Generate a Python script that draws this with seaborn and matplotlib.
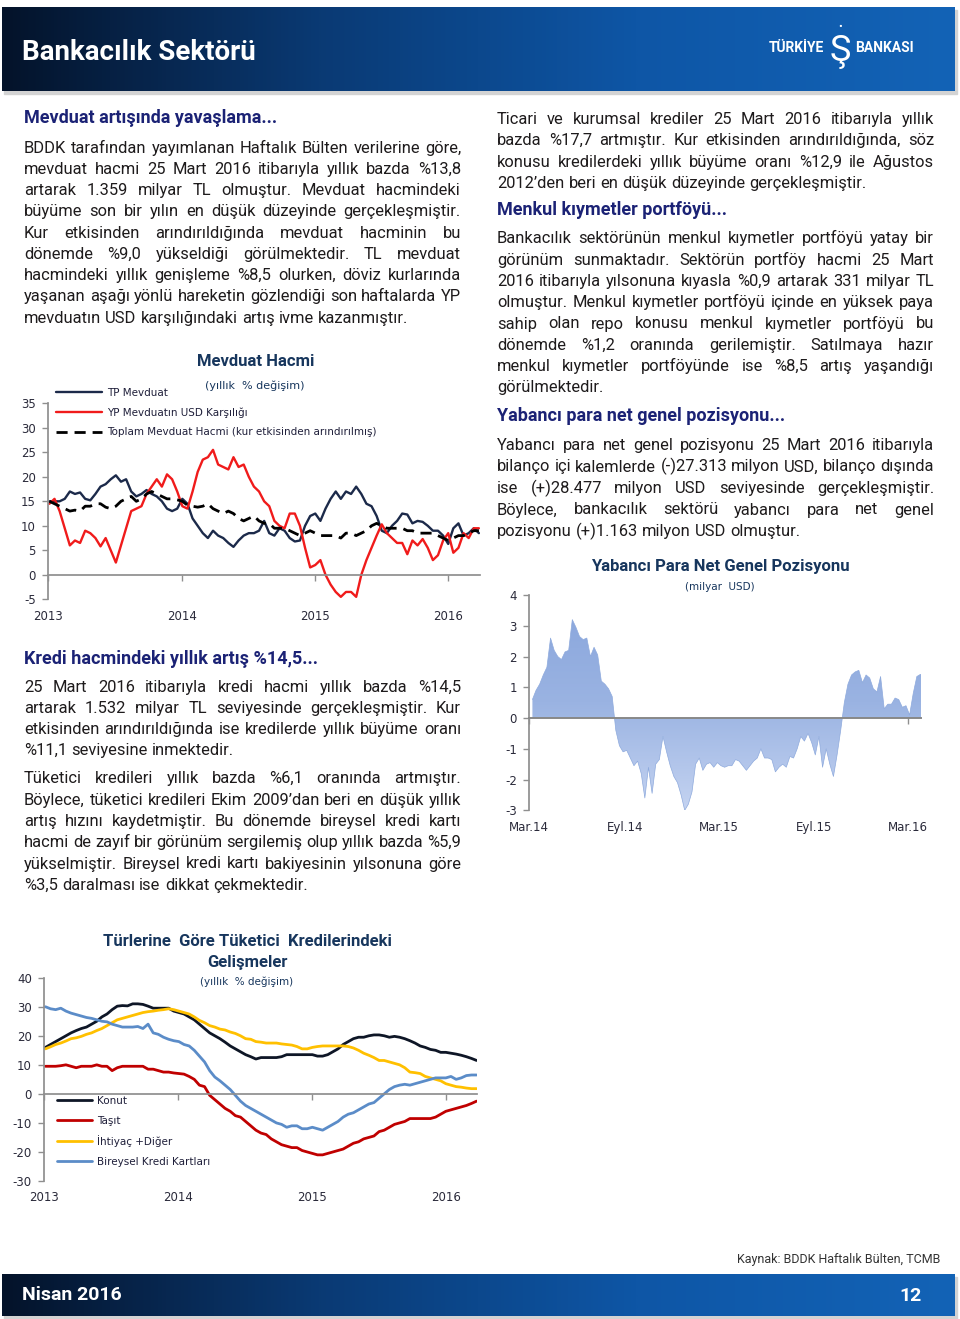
import numpy as np
import pandas as pd
import matplotlib
matplotlib.use('Agg')
import matplotlib.pyplot as plt
import matplotlib.dates as mdates
from matplotlib.colors import LinearSegmentedColormap
from matplotlib.patches import Rectangle
import seaborn as sns

# --- Mevduat Hacmi (yillik % degisim), iki haftalik ---
mevduat_tarih = pd.date_range('2013-01-04', periods=85, freq='14D')
tp_mevduat = [15, 15, 15, 15.5, 17, 16.5, 16.8, 15.5, 15.2, 16.5,
              18, 18.5, 19.5, 20.3, 19, 19.5, 17, 16, 16.5, 17.3,
              16.5, 16, 15, 13.5, 13, 13.5, 15.5, 14.5, 11.5, 10,
              8.5, 7.5, 9, 8, 7.5, 6.5, 5.7, 7, 8, 8.5,
              8.5, 9, 11, 8.5, 8, 9.5, 9, 7.5, 6.8, 7,
              10, 12, 12.5, 11, 13.5, 15.5, 17, 15.5, 17, 16.5,
              18, 16.5, 14.5, 14, 12, 9, 8.5, 10, 11, 12.5,
              12.3, 10.5, 11, 10.8, 10, 9, 9, 8, 6.3, 9.5,
              10.5, 8, 8.5, 9.5, 8.5]
yp_mevduat = [14.5, 15.5, 13, 9.5, 6, 7, 6.5, 9, 8.5, 7.5,
              5.8, 7.5, 5, 2.5, 6, 9.5, 13, 13.5, 14, 16.5,
              18, 19.5, 18, 20.5, 19.5, 17, 14, 13.5, 17, 21,
              23.5, 24, 25.5, 22.5, 22, 21.5, 24, 22, 22.5, 20,
              18, 17, 15, 14, 11, 10, 9.5, 12.5, 12.5, 10,
              5.5, 1.5, 2, 3, 0, -2, -3.5, -4.5, -3.5, -3.5,
              -4.5, 0, 3, 5.5, 8, 10.3, 8.5, 7.5, 6.5, 6.5,
              4.2, 7, 6, 7.3, 5.5, 3, 4, 7, 8.5, 4.5,
              5.5, 8.5, 7.5, 9.5, 9.5]
toplam_mevduat = [15, 14.5, 14, 13.5, 13, 13.2, 13, 14, 14, 14.5,
                  14.5, 13.8, 13.5, 14, 15, 15.5, 16, 15, 15.5, 16.5,
                  17, 16.5, 16, 15.5, 15.5, 15.3, 15, 14.2, 14, 13.8,
                  14, 14.5, 13.5, 13, 12.5, 13, 12.5, 11.5, 11, 11.5,
                  12, 11, 10.5, 10.5, 9.5, 9.5, 9.5, 9, 8.5, 8,
                  8.5, 9, 8.5, 8, 8, 8, 8, 7.5, 8.5, 8.5,
                  8, 8.5, 9, 10, 10.5, 10, 9.5, 9.5, 9.5, 9.5,
                  9, 9, 8.5, 8.5, 8.5, 8.5, 8, 7.5, 7, 7.5,
                  8, 8, 8.5, 9, 9]
mevduat_etiket = ['TP Mevduat', 'YP Mevduatın USD Karşılığı',
                  'Toplam Mevduat Hacmi (kur etkisinden arındırılmış)']

# --- Yabanci Para Net Genel Pozisyonu (milyar USD), haftalik ---
poz_tarih = pd.date_range('2014-03-07', periods=109, freq='7D')
yp_pozisyon = [0.6, 0.9, 1.1, 1.4, 1.65, 2.6, 2.2, 2.0, 1.9, 2.15,
               2.2, 3.2, 2.95, 2.65, 2.55, 2.6, 2.0, 2.3, 2.05, 1.2,
               1.1, 0.95, 0.7, -0.4, -0.9, -1.1, -1.05, -1.3, -1.55, -1.4,
               -1.8, -2.6, -1.6, -2.45, -1.5, -1.35, -0.6, -1.1, -1.55, -1.9,
               -2.1, -2.5, -3.0, -2.8, -2.4, -1.5, -1.3, -1.7, -1.5, -1.45,
               -1.6, -1.45, -1.55, -1.6, -1.55, -1.55, -1.35, -1.4, -1.55, -1.7,
               -1.55, -1.4, -1.3, -1.0, -1.3, -1.3, -1.35, -1.75, -1.6, -1.5,
               -1.6, -1.25, -1.3, -1.0, -0.6, -0.75, -0.5, -0.8, -1.2, -0.6,
               -1.6, -1.0, -1.5, -1.9, -1.2, -0.4, 0.5, 1.1, 1.4, 1.5,
               1.55, 1.15, 1.4, 1.3, 0.95, 0.85, 1.35, 0.3, 0.45, 0.45,
               0.65, 0.6, 0.35, 0.4, 0.1, 0.8, 1.35, 1.42, 1.2]
poz_tick_tarih = ['2014-03-01', '2014-09-01', '2015-03-01', '2015-09-01', '2016-03-01']
poz_tick_etiket = ['Mar.14', 'Eyl.14', 'Mar.15', 'Eyl.15', 'Mar.16']

# --- Turlerine gore tuketici kredileri (yillik % degisim), iki haftalik ---
kredi_tarih = pd.date_range('2013-01-04', periods=85, freq='14D')
konut = [16, 17, 18, 19, 20, 21, 21.8, 22.5, 23, 24,
         25, 26.5, 27.5, 29, 30.2, 30.4, 30.3, 31, 31, 30.8,
         30.2, 29.5, 29.5, 29.5, 29.5, 28.5, 28, 27.5, 26.5, 25.5,
         24, 22.5, 21, 20, 19, 17.8, 16.5, 15.5, 14.5, 13.5,
         12.8, 12, 12.5, 12.5, 12.5, 12.5, 12.8, 13.5, 13.5, 13.5,
         13.5, 13.5, 13.5, 13, 13, 13.5, 14.5, 15.5, 17, 18,
         19, 19.5, 19.5, 20, 20.3, 20.3, 20, 19.5, 19.8, 19.5,
         19, 18.3, 17.5, 16.5, 16, 15.3, 15, 14.3, 14.3, 14,
         13.7, 13.3, 12.8, 12.2, 11.5]
tasit = [9.5, 9.5, 9.5, 9.7, 10, 9.5, 9, 9.5, 9.5, 9.5,
         10, 9.5, 9.5, 8, 9, 9.5, 9.5, 9.5, 9.5, 9.5,
         8.5, 8.5, 8, 7.5, 7.5, 7.2, 7, 6.8, 6, 5,
         3, 2.5, -0.5, -2, -3.5, -5, -6, -7.5, -8, -9.5,
         -11, -12.5, -13.5, -14, -15.5, -16.5, -17.5, -18, -18.5, -18.5,
         -19.5, -20, -20.5, -21, -21, -20.5, -20, -19.5, -19, -18,
         -17, -16.5, -15.5, -15, -14.5, -13, -12.5, -11.5, -10.5, -10,
         -9.5, -8.5, -8.5, -8.5, -8.5, -8.5, -8, -7, -6, -5.5,
         -5, -4.5, -4, -3.3, -2.5]
ihtiyac = [15.5, 16.2, 17, 17.5, 18.2, 19, 19.3, 19.8, 20.5, 21,
           21.8, 22.5, 23.5, 24.5, 25.5, 26, 26.5, 27, 27.5, 28,
           28.3, 28.5, 28.8, 29, 29.3, 29, 28.5, 28, 27.5, 26.5,
           25.3, 24.5, 23.5, 23, 22.3, 22, 21.3, 20.8, 20, 19,
           18.8, 18, 17.8, 17.5, 17.5, 17.5, 17.2, 17, 16.8, 16.3,
           15.5, 15.5, 16, 16.3, 16.5, 16.5, 16.5, 16.5, 16.5, 16.3,
           15.8, 15, 14, 13.3, 12.5, 11.5, 11.5, 11, 10.5, 10,
           9, 7.5, 7.3, 7, 6, 5.5, 5, 4.5, 3.5, 3,
           2.5, 2.3, 2, 1.8, 1.8]
kredi_karti = [30, 29.3, 29, 29.5, 28.5, 27.8, 27.3, 26.8, 26.3, 26,
               25.5, 25, 24.8, 24, 23.5, 23, 23, 23, 23.2, 22.5,
               24, 21, 20.5, 19.5, 18.8, 18.3, 18, 17, 16.5, 15,
               13, 11, 8, 5.8, 4.5, 3, 1.5, -0.5, -2.5, -4,
               -5, -6, -7, -8, -9, -10, -10.5, -11.5, -11, -11,
               -12, -12, -11.5, -12, -12.5, -11.5, -10.5, -9.5, -8, -7,
               -6.5, -5.5, -4.5, -3.5, -3, -1.5, 0, 1.5, 2.5, 3,
               3.3, 3, 3.5, 4, 4.5, 5, 5.5, 5.5, 5.5, 6,
               5, 5.5, 6.3, 6.5, 6.5]
kredi_etiket = ['Konut', 'Taşıt', 'İhtiyaç +Diğer', 'Bireysel Kredi Kartları']

yil_tick = ['2013-01-01', '2014-01-01', '2015-01-01', '2016-01-01']
yil_etiket = ['2013', '2014', '2015', '2016']

# --- metin ---
p_mevduat = [
    "BDDK tarafından yayımlanan Haftalık Bülten verilerine göre,",
    "mevduat hacmi 25 Mart 2016 itibarıyla yıllık bazda %13,8",
    "artarak 1.359 milyar TL olmuştur. Mevduat hacmindeki",
    "büyüme son bir yılın en düşük düzeyinde gerçekleşmiştir.",
    "Kur etkisinden arındırıldığında mevduat hacminin bu",
    "dönemde %9,0 yükseldiği görülmektedir. TL mevduat",
    "hacmindeki yıllık genişleme %8,5 olurken, döviz kurlarında",
    "yaşanan aşağı yönlü hareketin gözlendiği son haftalarda YP",
    "mevduatın USD karşılığındaki artış ivme kazanmıştır.",
]
p_kredi1 = [
    "25 Mart 2016 itibarıyla kredi hacmi yıllık bazda %14,5",
    "artarak 1.532 milyar TL seviyesinde gerçekleşmiştir. Kur",
    "etkisinden arındırıldığında ise kredilerde yıllık büyüme oranı",
    "%11,1 seviyesine inmektedir.",
]
p_kredi2 = [
    "Tüketici kredileri yıllık bazda %6,1 oranında artmıştır.",
    "Böylece, tüketici kredileri Ekim 2009’dan beri en düşük yıllık",
    "artış hızını kaydetmiştir. Bu dönemde bireysel kredi kartı",
    "hacmi de zayıf bir görünüm sergilemiş olup yıllık bazda %5,9",
    "yükselmiştir. Bireysel kredi kartı bakiyesinin yılsonuna göre",
    "%3,5 daralması ise dikkat çekmektedir.",
]
p_ticari = [
    "Ticari ve kurumsal krediler 25 Mart 2016 itibarıyla yıllık",
    "bazda %17,7 artmıştır. Kur etkisinden arındırıldığında, söz",
    "konusu kredilerdeki yıllık büyüme oranı %12,9 ile Ağustos",
    "2012’den beri en düşük düzeyinde gerçekleşmiştir.",
]
p_menkul = [
    "Bankacılık sektörünün menkul kıymetler portföyü yatay bir",
    "görünüm sunmaktadır. Sektörün portföy hacmi 25 Mart",
    "2016 itibarıyla yılsonuna kıyasla %0,9 artarak 331 milyar TL",
    "olmuştur. Menkul kıymetler portföyü içinde en yüksek paya",
    "sahip olan repo konusu menkul kıymetler portföyü bu",
    "dönemde %1,2 oranında gerilemiştir. Satılmaya hazır",
    "menkul kıymetler portföyünde ise %8,5 artış yaşandığı",
    "görülmektedir.",
]
p_yp = [
    "Yabancı para net genel pozisyonu 25 Mart 2016 itibarıyla",
    "bilanço içi kalemlerde (-)27.313 milyon USD, bilanço dışında",
    "ise (+)28.477 milyon USD seviyesinde gerçekleşmiştir.",
    "Böylece, bankacılık sektörü yabancı para net genel",
    "pozisyonu (+)1.163 milyon USD olmuştur.",
]

sns.set_theme(style='white')
plt.rcParams['font.family'] = ['Roboto', 'DejaVu Sans']

W, H = 960, 1319
fig = plt.figure(figsize=(W / 100, H / 100), dpi=100)
renderer = fig.canvas.get_renderer()

NAVY = '#1b2275'
TITLE = '#17365d'
TEXT = '#1e1b1c'
AXC = '#8f8f8f'
TICKC = '#2a2a3a'
BODY = 11.9


def fx(x):
    return x / W


def fy(y):
    return 1 - y / H


def banner(top, bottom):
    fig.patches.append(Rectangle((fx(4), fy(bottom + 3)), fx(957) - fx(4), (bottom - top) / H,
                                 transform=fig.transFigure, color='#d3d3d3', zorder=-5))
    ax = fig.add_axes([fx(2), fy(bottom), fx(955) - fx(2), (bottom - top) / H])
    ax.set_zorder(2)
    cmap = LinearSegmentedColormap.from_list('band', ['#04132a', '#0a3a74', '#0e56a6', '#1363b6'])
    ax.imshow(np.linspace(0, 1, 512)[None, :], aspect='auto', cmap=cmap, extent=[0, 1, 0, 1])
    ax.set_axis_off()


def band_text(x, y, s, **kw):
    t = fig.text(fx(x), fy(y), s, color='white', va='center', **kw)
    t.set_zorder(10)


# ust ve alt bant
banner(7, 91)
band_text(22, 53, 'Bankacılık Sektörü', fontsize=20, fontweight='bold')
band_text(796, 48, 'TÜRKİYE', fontsize=10, fontweight='bold', ha='center')
band_text(840, 51, 'Ş', fontsize=26, ha='center')
band_text(840, 27, '•', fontsize=8, ha='center')
band_text(884, 48, 'BANKASI', fontsize=10, fontweight='bold', ha='center')

banner(1274, 1316)
band_text(22, 1295, 'Nisan 2016', fontsize=14, fontweight='bold')
band_text(922, 1296, '12', fontsize=14, fontweight='bold', ha='right')
fig.text(fx(940), fy(1260), 'Kaynak: BDDK Haftalık Bülten, TCMB', color='#333333', fontsize=9,
         ha='right', va='center')


def space_width(size):
    a = fig.text(0, 0, 'a a', fontsize=size)
    b = fig.text(0, 0, 'aa', fontsize=size)
    w = a.get_window_extent(renderer).width - b.get_window_extent(renderer).width
    a.remove()
    b.remove()
    return w


SPACE = space_width(BODY)


# iki yana yasli paragraflar
def paragraph(lines, x0, x1, base0, step, size=BODY):
    for i, line in enumerate(lines):
        base = base0 + i * step
        words = line.split()
        last = i == len(lines) - 1 or len(words) == 1
        s = size
        while True:
            items = [fig.text(0, fy(base), w, fontsize=s, color=TEXT, va='baseline') for w in words]
            widths = [t.get_window_extent(renderer).width for t in items]
            gap = SPACE if last else (x1 - x0 - sum(widths)) / (len(words) - 1)
            if gap >= 0.6 * SPACE or s < 9:
                break
            for t in items:
                t.remove()
            s -= 0.2
        x = x0
        for t, w in zip(items, widths):
            t.set_x(fx(x))
            x += w + gap


def heading(txt, x, base):
    fig.text(fx(x), fy(base), txt, fontsize=13, fontweight='bold', color=NAVY, va='baseline')


heading('Mevduat artışında yavaşlama...', 24, 122.7)
paragraph(p_mevduat, 24, 461, 152.7, 21.25)
heading('Kredi hacmindeki yıllık artış %14,5...', 24, 664)
paragraph(p_kredi1, 24, 461, 691.7, 21.1)
paragraph(p_kredi2, 24, 461, 783.3, 21.3)

paragraph(p_ticari, 497, 934, 124, 21.3)
heading('Menkul kıymetler portföyü...', 497, 215)
paragraph(p_menkul, 497, 934, 243.3, 21.3)
heading('Yabancı para net genel pozisyonu...', 497, 420.7)
paragraph(p_yp, 497, 934, 450, 21.5)


def axes_px(left, right, top, bottom):
    return fig.add_axes([fx(left), fy(bottom), (right - left) / W, (bottom - top) / H])


def style_axis(ax, ylim, yticks, xlim, xticks, xlabels, label_y, lab_size=8.5):
    ax.set_xlim(mdates.date2num(pd.Timestamp(xlim[0])), mdates.date2num(pd.Timestamp(xlim[1])))
    ax.set_ylim(*ylim)
    ax.set_yticks(yticks)
    ax.set_yticklabels([str(v) for v in yticks])
    xt = [mdates.date2num(pd.Timestamp(d)) for d in xticks]
    ax.set_xticks(xt)
    ax.tick_params(axis='x', direction='out', length=4, width=1, color=AXC, labelbottom=False, bottom=True)
    ax.tick_params(axis='y', direction='out', length=4, width=1, color=AXC, labelsize=lab_size,
                   labelcolor=TICKC, pad=5, left=True)
    for lab in ax.get_yticklabels():
        lab.set_fontfamily('DejaVu Sans')
    ax.spines['top'].set_visible(False)
    ax.spines['right'].set_visible(False)
    ax.spines['left'].set_color(AXC)
    ax.spines['bottom'].set_color(AXC)
    ax.spines['bottom'].set_position(('data', 0))
    for x, lab in zip(xt, xlabels):
        ax.text(x, label_y, lab, transform=ax.get_xaxis_transform(), ha='center', va='center',
                fontsize=lab_size, color=TICKC, family='DejaVu Sans')
    ax.set_xlabel('')
    ax.set_ylabel('')
    ax.grid(False)
    ax.patch.set_alpha(0)


# --- Grafik 1: Mevduat Hacmi ---
ax1 = axes_px(48.3, 480, 403.3, 599.3)
sns.lineplot(x=mevduat_tarih, y=tp_mevduat, ax=ax1, color='#1c2a4a', lw=1.7)
sns.lineplot(x=mevduat_tarih, y=yp_mevduat, ax=ax1, color='#f01b1b', lw=1.7)
sns.lineplot(x=mevduat_tarih, y=toplam_mevduat, ax=ax1, color='#000000', lw=2.0)
ax1.lines[-1].set_linestyle((0, (4, 2.5)))
style_axis(ax1, (-5, 35), list(range(35, -6, -5)), ('2013-01-01', '2016-03-28'), yil_tick, yil_etiket, -0.09)
ax1.legend(handles=ax1.lines[:3], labels=mevduat_etiket, loc='upper left',
           bbox_to_anchor=(fx(56), fy(388)), bbox_transform=fig.transFigure, frameon=False,
           prop={'family': 'DejaVu Sans', 'size': 7.5}, labelcolor='#1f1f3a',
           handlelength=4.4, handletextpad=0.5, labelspacing=0.9, borderpad=0, borderaxespad=0)
fig.text(fx(256), fy(362), 'Mevduat Hacmi', fontsize=12, fontweight='bold', color=TITLE, ha='center', va='center')
fig.text(fx(255), fy(386), '(yıllık  % değişim)', fontsize=8, color=TITLE, ha='center', va='center',
         family='DejaVu Sans')

# --- Grafik 2: Yabanci Para Net Genel Pozisyonu ---
ax2 = axes_px(529.3, 921, 595, 810.3)
sns.lineplot(x=poz_tarih, y=yp_pozisyon, ax=ax2, color='#8eaadd', lw=0.5)
alan = ax2.fill_between(poz_tarih, 0, yp_pozisyon, color='none', lw=0)
style_axis(ax2, (-3, 4), list(range(4, -4, -1)), ('2014-03-03', '2016-03-26'), poz_tick_tarih,
           poz_tick_etiket, -0.078, lab_size=8.5)
grad_cmap = LinearSegmentedColormap.from_list('alan', ['#c4d3f1', '#9ab3e2', '#88a5dc'])
x_lo, x_hi = ax2.get_xlim()
im = ax2.imshow(np.linspace(0, 1, 256)[:, None], cmap=grad_cmap, origin='lower', aspect='auto',
                extent=[x_lo, x_hi, -3, 4], zorder=1)
im.set_clip_path(alan.get_paths()[0], transform=ax2.transData)
ax2.set_xlim(x_lo, x_hi)
ax2.set_ylim(-3, 4)
ax2.spines['bottom'].set_color('#888888')
ax2.spines['bottom'].set_linewidth(1.4)
ax2.spines['bottom'].set_zorder(3)
fig.text(fx(720), fy(567), 'Yabancı Para Net Genel Pozisyonu', fontsize=12, fontweight='bold', color=TITLE,
         ha='center', va='center')
fig.text(fx(720), fy(587), '(milyar  USD)', fontsize=7.5, color=TITLE, ha='center', va='center',
         family='DejaVu Sans')

# --- Grafik 3: Tuketici kredileri ---
ax3 = axes_px(44.3, 477, 977.7, 1181)
renk3 = ['#0e1626', '#c00000', '#ffc000', '#5b8cc8']
for seri, renk in zip([konut, tasit, ihtiyac, kredi_karti], renk3):
    sns.lineplot(x=kredi_tarih, y=seri, ax=ax3, color=renk, lw=2.0)
style_axis(ax3, (-30, 40), list(range(40, -31, -10)), ('2013-01-01', '2016-03-26'), yil_tick, yil_etiket, -0.079)
ax3.legend(handles=ax3.lines[:4], labels=kredi_etiket, loc='upper left',
           bbox_to_anchor=(fx(57), fy(1096)), bbox_transform=fig.transFigure, frameon=False,
           prop={'family': 'DejaVu Sans', 'size': 7.5}, labelcolor='#1f1f3a',
           handlelength=3.4, handletextpad=0.4, labelspacing=0.92, borderpad=0, borderaxespad=0)
fig.text(fx(247), fy(941), 'Türlerine  Göre Tüketici  Kredilerindeki', fontsize=12, fontweight='bold',
         color=TITLE, ha='center', va='center')
fig.text(fx(247), fy(963), 'Gelişmeler', fontsize=12, fontweight='bold', color=TITLE, ha='center', va='center')
fig.text(fx(247), fy(982), '(yıllık  % değişim)', fontsize=7.5, color=TITLE, ha='center', va='center',
         family='DejaVu Sans')

fig.savefig('out.png', dpi=100)
